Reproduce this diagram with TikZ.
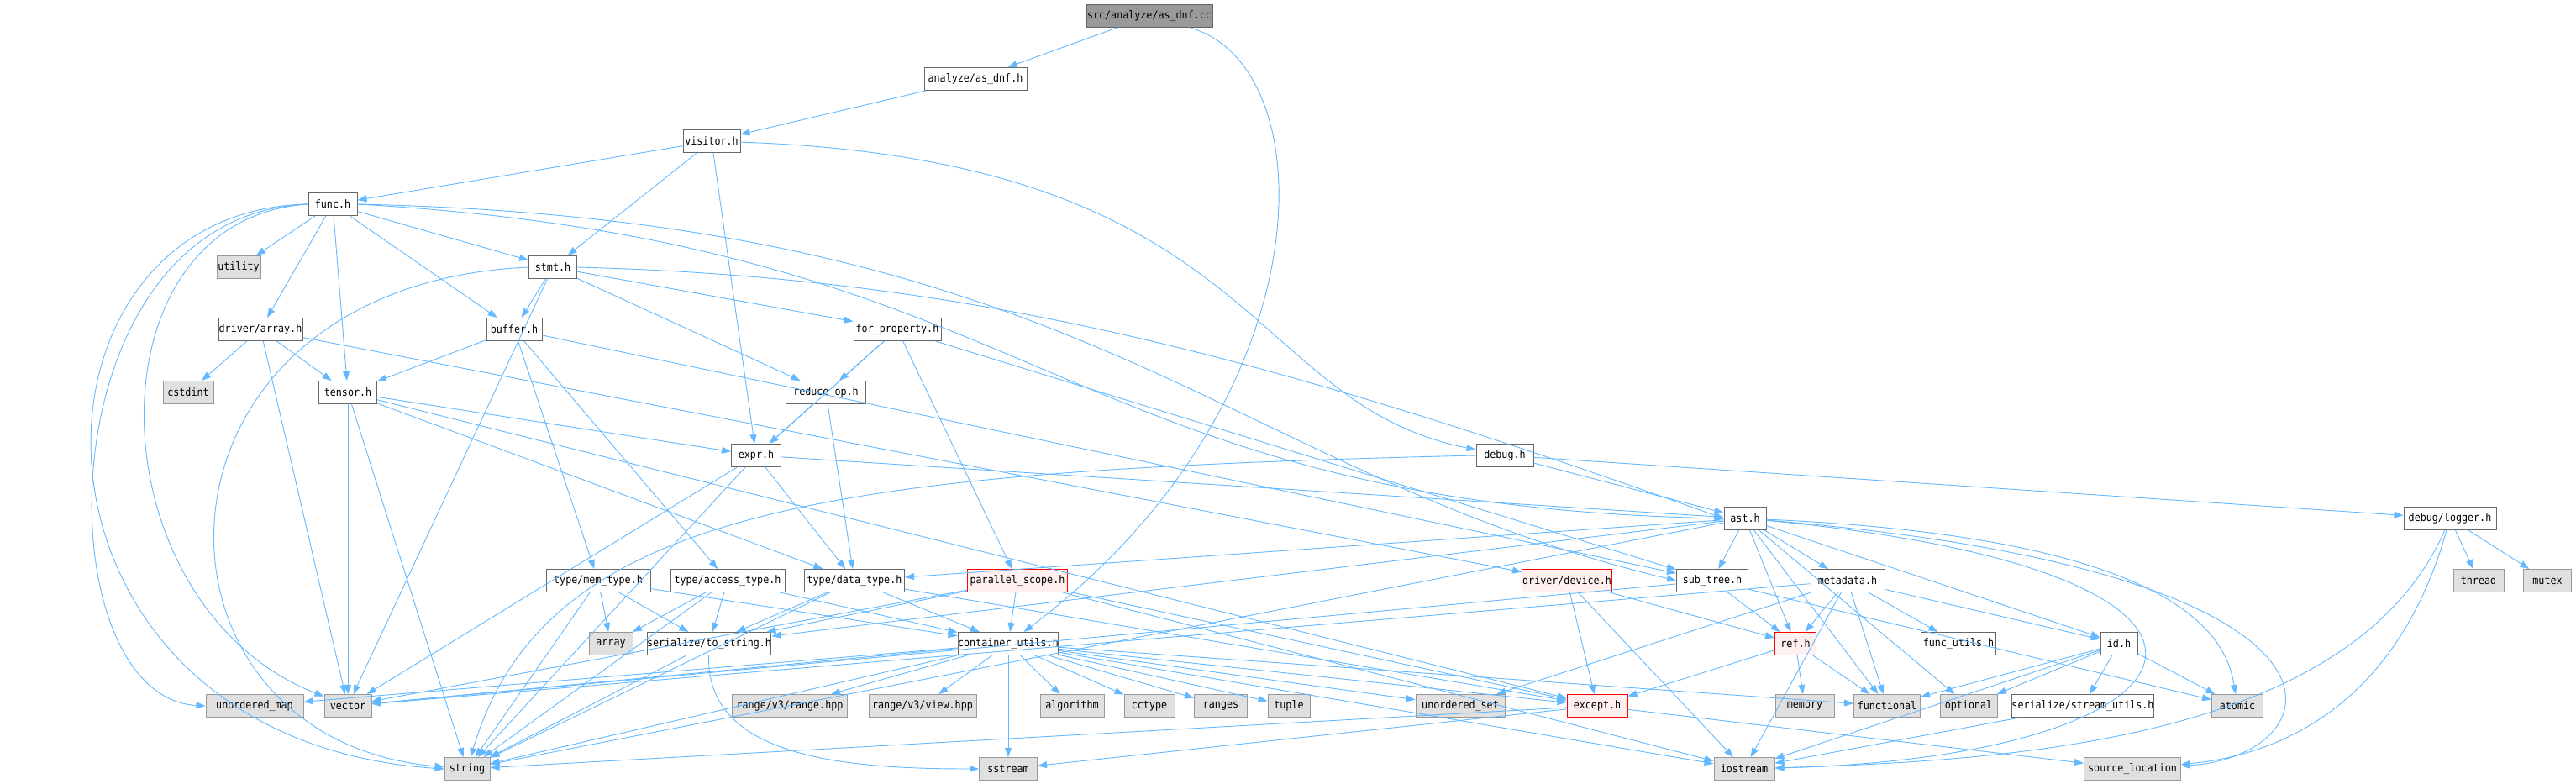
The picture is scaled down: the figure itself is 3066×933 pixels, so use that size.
\documentclass[tikz,border=0pt]{standalone}
\usepackage{fontspec}
\usetikzlibrary{arrows.meta}
\newfontfamily\graphfont[FakeStretch=0.9]{DejaVu Sans Mono}
\definecolor{edgeblue}{RGB}{99,184,255}
\definecolor{boxgray}{RGB}{102,102,102}
\definecolor{sysgray}{RGB}{153,153,153}
\definecolor{sysfill}{RGB}{224,224,224}
\definecolor{badfill}{RGB}{255,240,240}

\begin{document}
\begin{tikzpicture}[x=1pt, y=-1pt,
  file/.style={draw=boxgray, fill=white, line width=1pt, minimum height=27pt,
    inner sep=0pt, font=\graphfont\fontsize{13}{14}\selectfont},
  sys/.style={file, draw=sysgray, fill=sysfill},
  bad/.style={file, draw=red, fill=badfill},
  inc/.style={draw=edgeblue, line width=0.9pt, -{Triangle[length=11pt,width=8pt]}}]
% geometry: pixel grid of the include graph, y grows downwards
\useasboundingbox (0,0) rectangle (3066,933);

% ---- project headers ----
\node[file, fill=sysgray, minimum width=150pt] (main) at (1368,19) {src/analyze/as\_dnf.cc};
\node[file, minimum width=122pt] (asdnf) at (1161,94) {analyze/as\_dnf.h};
\node[file, minimum width=68pt] (visitor) at (847,168) {visitor.h};
\node[file, minimum width=58pt] (func) at (396,243) {func.h};
\node[file, minimum width=57pt] (stmt) at (658,318) {stmt.h};
\node[file, minimum width=100pt] (darray) at (310,392) {driver/array.h};
\node[file, minimum width=66pt] (buffer) at (612,392) {buffer.h};
\node[file, minimum width=104pt] (forprop) at (1068,392) {for\_property.h};
\node[file, minimum width=69pt] (tensor) at (414,467) {tensor.h};
\node[file, minimum width=95pt] (reduceop) at (983,467) {reduce\_op.h};
\node[file, minimum width=59pt] (expr) at (900,542) {expr.h};
\node[file, minimum width=68pt] (debug) at (1791,542) {debug.h};
\node[file, minimum width=50pt] (ast) at (2077,617) {ast.h};
\node[file, minimum width=110pt] (logger) at (2916,617) {debug/logger.h};
\node[file, minimum width=124pt] (memtype) at (712,691) {type/mem\_type.h};
\node[file, minimum width=136pt] (accesstype) at (866,691) {type/access\_type.h};
\node[file, minimum width=119pt] (datatype) at (1017,691) {type/data\_type.h};
\node[bad, minimum width=119pt] (pscope) at (1211,691) {parallel\_scope.h};
\node[bad, minimum width=107pt] (device) at (1865,691) {driver/device.h};
\node[file, minimum width=85pt] (subtree) at (2038,691) {sub\_tree.h};
\node[file, minimum width=88pt] (metadata) at (2199,691) {metadata.h};
\node[file, minimum width=135pt] (tostring) at (844,766) {serialize/to\_string.h};
\node[file, minimum width=118pt] (cutils) at (1200,766) {container\_utils.h};
\node[bad, minimum width=49pt] (ref) at (2137,766) {ref.h};
\node[file, minimum width=89pt] (funcutils) at (2331,766) {func\_utils.h};
\node[file, minimum width=44pt] (id) at (2522,766) {id.h};
\node[bad, minimum width=72pt] (except) at (1901,840) {except.h};
\node[file, minimum width=158pt] (streamutils) at (2479,840) {serialize/stream\_utils.h};

% ---- system headers ----
\node[sys, minimum width=52pt] (utility) at (284,318) {utility};
\node[sys, minimum width=60pt] (cstdint) at (224,467) {cstdint};
\node[sys, minimum width=60pt] (thread) at (2950,691) {thread};
\node[sys, minimum width=57pt] (mutex) at (3032,691) {mutex};
\node[sys, minimum width=52pt] (starray) at (727,766) {array};
\node[sys, minimum width=116pt] (umap) at (303,840) {unordered\_map};
\node[sys, minimum width=56pt] (vector) at (414,840) {vector};
\node[sys, minimum width=137pt] (rangehpp) at (940,840) {range/v3/range.hpp};
\node[sys, minimum width=128pt] (viewhpp) at (1098,840) {range/v3/view.hpp};
\node[sys, minimum width=76pt] (algorithm) at (1276,840) {algorithm};
\node[sys, minimum width=60pt] (cctype) at (1368,840) {cctype};
\node[sys, minimum width=63pt] (ranges) at (1453,840) {ranges};
\node[sys, minimum width=50pt] (tuple) at (1534,840) {tuple};
\node[sys, minimum width=106pt] (uset) at (1738,840) {unordered\_set};
\node[sys, minimum width=70pt] (memory) at (2148,840) {memory};
\node[sys, minimum width=79pt] (functional) at (2246,840) {functional};
\node[sys, minimum width=68pt] (optional) at (2343,840) {optional};
\node[sys, minimum width=61pt] (atomic) at (2663,840) {atomic};
\node[sys, minimum width=54pt] (string) at (556,915) {string};
\node[sys, minimum width=69pt] (sstream) at (1200,915) {sstream};
\node[sys, minimum width=72pt] (iostream) at (2076,915) {iostream};
\node[sys, minimum width=115pt] (srcloc) at (2538,915) {source\_location};

% ---- include edges ----
\draw[inc] (main) -- (asdnf);
\draw[inc] (main) .. controls (1580,80) and (1580,480) .. (cutils);
\draw[inc] (asdnf) -- (visitor);
\foreach \t in {func,stmt,expr} \draw[inc] (visitor) -- (\t);
\draw[inc] (visitor) .. controls (1500,190) and (1480,480) .. (debug);

\foreach \t in {utility,darray,tensor,buffer,stmt} \draw[inc] (func) -- (\t);
\draw[inc] (func.east) .. controls (1300,262) and (1450,560) .. (subtree.west);
\draw[inc] (func.east) .. controls (1250,290) and (1250,600) .. (ast.west);
\draw[inc] (func.west) .. controls (0,250) and (0,880) .. (string.west);
\draw[inc] (func.west) .. controls (50,255) and (50,830) .. (umap.west);
\draw[inc] (func.west) .. controls (100,260) and (110,720) .. (vector);

\foreach \t in {buffer,forprop,reduceop,vector} \draw[inc] (stmt) -- (\t);
\draw[inc] (stmt.east) .. controls (1150,330) and (1500,420) .. (ast.west);
\draw[inc] (stmt.west) .. controls (150,340) and (150,880) .. (string);

\foreach \t in {cstdint,tensor,vector,device} \draw[inc] (darray) -- (\t);
\foreach \t in {tensor,memtype,accesstype,subtree} \draw[inc] (buffer) -- (\t);
\foreach \t in {expr,datatype,except,vector,string} \draw[inc] (tensor) -- (\t);
\foreach \t in {reduceop,expr,pscope,subtree} \draw[inc] (forprop) -- (\t);
\foreach \t in {expr,datatype} \draw[inc] (reduceop) -- (\t);
\foreach \t in {datatype,ast,vector,string} \draw[inc] (expr) -- (\t);

\foreach \t in {ast,logger} \draw[inc] (debug) -- (\t);
\draw[inc] (debug.west) .. controls (1000,560) and (650,600) .. (string);
\foreach \t in {thread,mutex} \draw[inc] (logger) -- (\t);
\draw[inc] (logger) .. controls (2850,850) and (2700,900) .. (srcloc);
\draw[inc] (logger) .. controls (2800,880) and (2400,905) .. (iostream);

\foreach \t in {subtree,ref,metadata,datatype,tostring,id,functional,optional,string} \draw[inc] (ast) -- (\t);
\draw[inc] (ast) .. controls (2600,640) and (2650,760) .. (atomic);
\draw[inc] (ast) .. controls (2750,680) and (2650,900) .. (iostream);
\draw[inc] (ast) .. controls (2850,680) and (2780,900) .. (srcloc);

\foreach \t in {ref,vector,atomic} \draw[inc] (subtree) -- (\t);
\foreach \t in {ref,funcutils,functional,id,uset,iostream,vector} \draw[inc] (metadata) -- (\t);
\foreach \t in {ref,iostream,except} \draw[inc] (device) -- (\t);
\foreach \t in {memory,functional,except} \draw[inc] (ref) -- (\t);
\foreach \t in {string,sstream,srcloc} \draw[inc] (except) -- (\t);
\foreach \t in {functional,optional,streamutils,atomic,iostream} \draw[inc] (id) -- (\t);
\draw[inc] (streamutils) -- (iostream);

\foreach \t in {starray,tostring,cutils,string} \draw[inc] (memtype) -- (\t);
\foreach \t in {starray,tostring,cutils,string} \draw[inc] (accesstype) -- (\t);
\foreach \t in {tostring,cutils,except,string} \draw[inc] (datatype) -- (\t);
\foreach \t in {cutils,tostring,except,vector,iostream} \draw[inc] (pscope) -- (\t);
\draw[inc] (tostring) .. controls (840,900) and (1000,915) .. (sstream);
\draw[inc] (tostring) -- (string);

\foreach \t in {rangehpp,viewhpp,algorithm,cctype,ranges,tuple,sstream,umap,uset,vector,string,except,iostream,functional}
  \draw[inc] (cutils) -- (\t);
\end{tikzpicture}
\end{document}
